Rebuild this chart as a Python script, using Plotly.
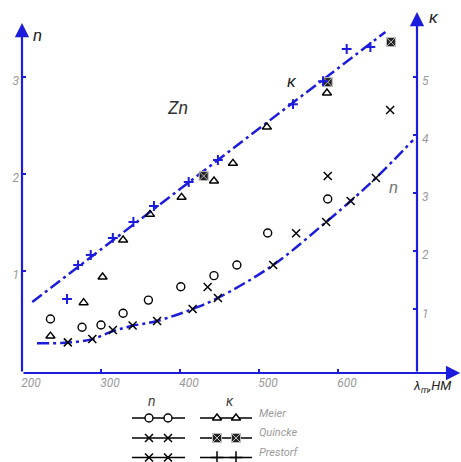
import plotly.graph_objects as go

# ---------------- data ----------------
meier_n_lambda = [236, 276, 300, 328, 360, 401, 443, 472, 511, 587]
meier_n = [0.505, 0.42, 0.443, 0.564, 0.70, 0.838, 0.952, 1.062, 1.392, 1.742]

quincke_n_lambda = [435, 547, 587, 666]
quincke_n = [0.835, 1.39, 1.98, 2.66]

prestorf_n_lambda = [258, 289, 315, 340, 371, 416, 448, 518, 585, 616, 648]
prestorf_n = [0.264, 0.299, 0.392, 0.438, 0.485, 0.608, 0.722, 1.062, 1.505, 1.722, 1.959]

meier_k_lambda = [236, 278, 302, 328, 362, 402, 443, 467, 510, 586]
meier_k = [0.54, 1.114, 1.556, 2.193, 2.635, 2.928, 3.208, 3.513, 4.138, 4.723]

quincke_k_lambda = [430, 587, 667]
quincke_k = [3.294, 4.91, 5.60]

prestorf_k_lambda = [257, 271, 287, 315, 341, 367, 411, 448, 543, 581, 611, 641]
prestorf_k = [1.177, 1.762, 1.935, 2.228, 2.503, 2.778, 3.191, 3.57, 4.53, 4.925, 5.48, 5.515]

n_curve_lambda = [219, 250, 270, 290, 315, 340, 371, 416, 448, 518, 585, 616, 648, 695]
n_curve = [0.255, 0.258, 0.27, 0.30, 0.38, 0.435, 0.485, 0.608, 0.722, 1.062, 1.505, 1.722, 1.959, 2.35]

k_line_lambda = [213, 660]
k_line = [1.126, 5.773]

x_ticks = [200, 300, 400, 500, 600]
n_ticks = [1, 2, 3]
k_ticks = [1, 2, 3, 4, 5]

# ---------------- style ----------------
W, H = 461, 462
BLUE = "#1c1cdc"
GRAY = "#9a9a9a"
FONT = "Roboto"
DASH = "12px,4px,3px,4px"

X_RANGE = [200, 200 + 439 / 0.79]
N_RANGE = [-5 / 97, 368 / 97]
K_RANGE = [-5.6 / 58.1, 367.4 / 58.1]

fig = go.Figure()

# fitted lines
fig.add_trace(go.Scatter(x=n_curve_lambda, y=n_curve, mode="lines", line=dict(color=BLUE, width=2.5, dash=DASH, shape="spline"),
                         xaxis="x", yaxis="y", showlegend=False, hoverinfo="skip"))
fig.add_trace(go.Scatter(x=k_line_lambda, y=k_line, mode="lines", line=dict(color=BLUE, width=2.5, dash=DASH),
                         xaxis="x", yaxis="y2", showlegend=False, hoverinfo="skip"))

mk_circle = dict(symbol="circle-open", size=8, color="black", line=dict(width=1.4, color="black"))
mk_x = dict(symbol="x-thin", size=8, color="black", line=dict(width=1.5, color="black"))
mk_tri = dict(symbol="triangle-up-open", size=8, color="black", line=dict(width=1.4, color="black"))
mk_sq = dict(symbol="square-x", size=9, color="#222222", line=dict(width=1, color="#bbbbbb"))
mk_plus = dict(symbol="cross-thin", size=7, color=BLUE, line=dict(width=2, color=BLUE))

mk_circle_leg = dict(symbol="circle", size=8, color="white", line=dict(width=1.4, color="black"))
mk_tri_leg = dict(symbol="triangle-up", size=8, color="white", line=dict(width=1.4, color="black"))
mk_plus_leg = dict(symbol="cross-thin", size=9, color="black", line=dict(width=1.5, color="black"))

def pts(x, y, mk, ya, name):
    fig.add_trace(go.Scatter(x=x, y=y, mode="markers", marker=mk, xaxis="x", yaxis=ya,
                             cliponaxis=False, showlegend=False, name=name))

pts(meier_n_lambda, meier_n, mk_circle, "y", "Meier n")
pts(quincke_n_lambda, quincke_n, mk_x, "y", "Quincke n")
pts(prestorf_n_lambda, prestorf_n, mk_x, "y", "Prestorf n")
pts(meier_k_lambda, meier_k, mk_tri, "y2", "Meier k")
pts(quincke_k_lambda, quincke_k, mk_sq, "y2", "Quincke k")
pts(prestorf_k_lambda, prestorf_k, mk_plus, "y2", "Prestorf k")

# ---------------- custom legend (own subplot in pixel-like coordinates) ----------------
leg_rows = [418, 438, 457.5]
leg_markers_n = [mk_circle_leg, mk_x, mk_x]
leg_markers_k = [mk_tri_leg, mk_sq, mk_plus_leg]
for yr, mn, mkk in zip(leg_rows, leg_markers_n, leg_markers_k):
    fig.add_trace(go.Scatter(x=[132, 185], y=[yr, yr], mode="lines", line=dict(color="black", width=1.3),
                             xaxis="x3", yaxis="y3", showlegend=False, hoverinfo="skip"))
    fig.add_trace(go.Scatter(x=[149, 168], y=[yr, yr], mode="markers", marker=mn,
                             xaxis="x3", yaxis="y3", cliponaxis=False, showlegend=False, hoverinfo="skip"))
    fig.add_trace(go.Scatter(x=[200, 252], y=[yr, yr], mode="lines", line=dict(color="black", width=1.3),
                             xaxis="x3", yaxis="y3", showlegend=False, hoverinfo="skip"))
    fig.add_trace(go.Scatter(x=[217, 236], y=[yr, yr], mode="markers", marker=mkk,
                             xaxis="x3", yaxis="y3", cliponaxis=False, showlegend=False, hoverinfo="skip"))

tickfont = dict(family=FONT, size=12, color=GRAY, style="italic")

fig.update_layout(
    width=W, height=H,
    margin=dict(l=0, r=0, t=0, b=0),
    paper_bgcolor="white", plot_bgcolor="white",
    showlegend=False,
    xaxis=dict(domain=[22 / W, 1], range=X_RANGE, anchor="y", tickvals=x_ticks, ticktext=[str(v) for v in x_ticks],
               ticks="inside", ticklen=4, tickwidth=2, tickcolor=BLUE, showgrid=False, zeroline=False, showline=False,
               tickfont=tickfont, ticklabelshift=9, ticklabelstandoff=1),
    yaxis=dict(domain=[89 / H, 1], range=N_RANGE, anchor="x", tickvals=n_ticks, ticktext=[str(v) for v in n_ticks],
               ticks="inside", ticklen=4, tickwidth=2, tickcolor=BLUE, showgrid=False, zeroline=False, showline=False,
               tickfont=tickfont, ticklabelshift=4, ticklabelstandoff=2),
    yaxis2=dict(overlaying="y", side="right", anchor="free", position=417 / W, range=K_RANGE,
                tickvals=k_ticks, ticktext=[str(v) for v in k_ticks],
                ticks="inside", ticklen=4, tickwidth=2, tickcolor=BLUE, showgrid=False, zeroline=False, showline=False,
                tickfont=tickfont, ticklabelshift=4, ticklabelstandoff=4),
    xaxis3=dict(domain=[0, 1], range=[0, W], anchor="y3", visible=False, fixedrange=True),
    yaxis3=dict(domain=[0, 89 / H], range=[H, 373], anchor="x3", visible=False, fixedrange=True),
)

# axes with arrows
arrow = dict(showarrow=True, text="", arrowhead=2, arrowsize=1.3, arrowwidth=2.2, arrowcolor=BLUE, standoff=0, startstandoff=0)
fig.add_annotation(x=200, y=N_RANGE[0] + (373 - 23) / 97, ax=200, ay=N_RANGE[0], xref="x", yref="y", axref="x", ayref="y", **arrow)
fig.add_annotation(x=700, y=K_RANGE[0] + (373 - 12) / 58.1, ax=700, ay=K_RANGE[0], xref="x", yref="y2", axref="x", ayref="y2", **arrow)
fig.add_annotation(x=X_RANGE[1] - 1, y=N_RANGE[0], ax=200, ay=N_RANGE[0], xref="x", yref="y", axref="x", ayref="y", **arrow)

def label(text, xp, yp, size=15, color="#333333", anchor="center", weight="normal"):
    fig.add_annotation(x=xp / W, y=1 - yp / H, xref="paper", yref="paper", text=text, showarrow=False,
                       xanchor=anchor, yanchor="middle",
                       font=dict(family=FONT, size=size, color=color, style="italic", weight=weight))

label("n", 37, 35, size=17, color="#222222")
label("κ", 434, 17, size=17, color="#222222")
label("Zn", 177, 107, size=18, color="#333333")
label("κ", 292, 81, size=17, color="#222222")
label("n", 393, 187, size=17, color="#777777")
label("λ<sub>m</sub>,НМ", 432, 386, size=13, color="#222222")
label("n", 152, 401, size=14, color="#444444")
label("κ", 230, 401, size=14, color="#444444")
label("Meier", 257, 413, size=11, color=GRAY, anchor="left")
label("Quincke", 257, 432, size=11, color=GRAY, anchor="left")
label("Prestorf", 257, 452, size=11, color=GRAY, anchor="left")

fig.write_html("out.html", config={"displayModeBar": False},
               post_script="document.body.style.margin='0';document.body.style.padding='0';")
